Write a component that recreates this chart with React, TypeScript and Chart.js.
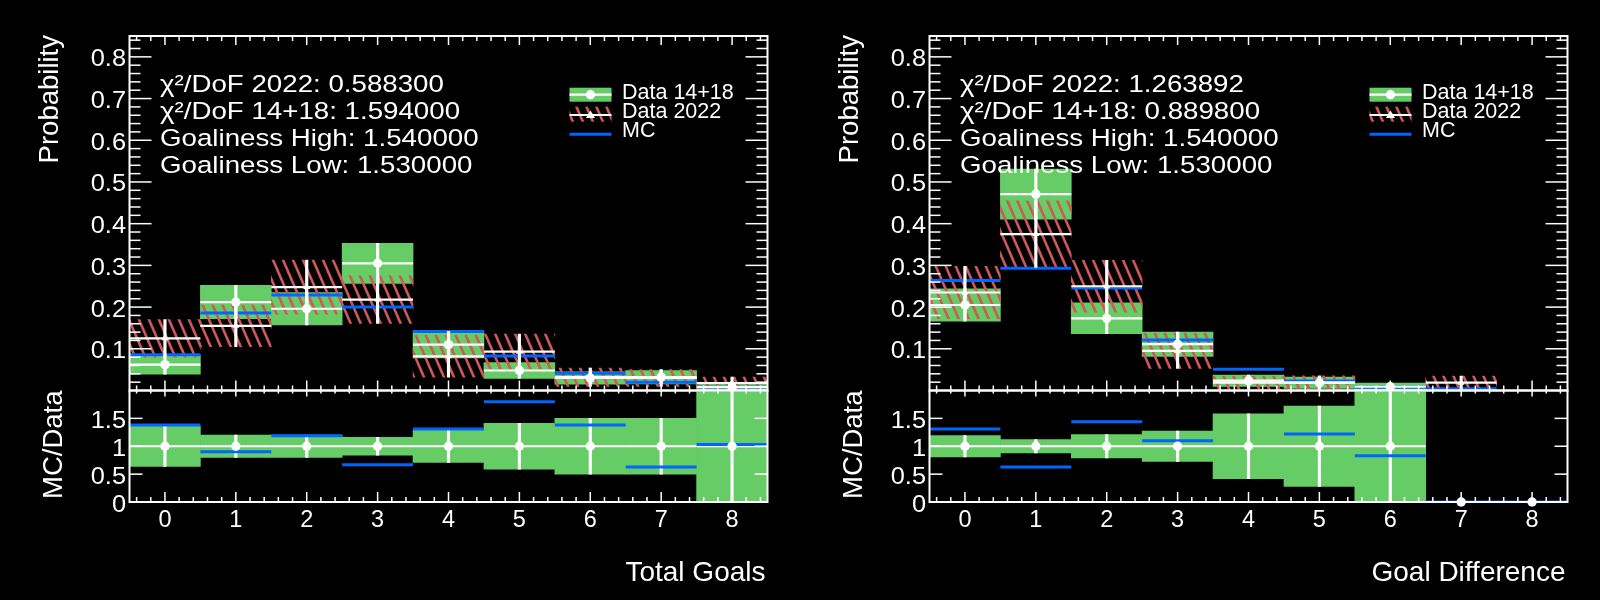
import { useEffect, useRef } from "react";
import { Chart, registerables } from "chart.js";

Chart.register(...registerables);

const goalBins = ["0", "1", "2", "3", "4", "5", "6", "7", "8"];
const probTicks = [0.1, 0.2, 0.3, 0.4, 0.5, 0.6, 0.7, 0.8];
const probTickLabels = ["0.1", "0.2", "0.3", "0.4", "0.5", "0.6", "0.7", "0.8"];
const ratioTicks = [0, 0.5, 1, 1.5];
const ratioTickLabels = ["0", "0.5", "1", "1.5"];
const legendLabels = ["Data 14+18", "Data 2022", "MC"];

// Total Goals
const totalData1418 = [0.062, 0.212, 0.196, 0.305, 0.11, 0.048, 0.03, 0.032, 0.008];
const totalErr1418 = [0.023, 0.04, 0.039, 0.048, 0.032, 0.019, 0.015, 0.016, 0.01];
const totalData2022 = [0.125, 0.155, 0.248, 0.218, 0.082, 0.093, 0.032, 0.03, 0.018];
const totalErr2022 = [0.045, 0.05, 0.065, 0.057, 0.05, 0.042, 0.022, 0.02, 0.014];
const totalMC = [0.086, 0.186, 0.229, 0.2, 0.1415, 0.083, 0.0415, 0.02, 0.008];
const totalRatioPoint = [1, 1, 1, 1, 1, 1, 1, 1, 1];
const totalRatioErr = [0.36, 0.2, 0.2, 0.16, 0.29, 0.41, 0.5, 0.5, 1.2];
const totalRatioMC = [1.38, 0.9, 1.19, 0.67, 1.31, 1.8, 1.38, 0.63, 1.03];
const totalInfo = [
  "χ²/DoF 2022: 0.588300",
  "χ²/DoF 14+18: 1.594000",
  "Goaliness High: 1.540000",
  "Goaliness Low: 1.530000",
];

// Goal Difference
const diffData1418 = [0.205, 0.471, 0.173, 0.111, 0.0235, 0.0187, 0.009, null, null];
const diffErr1418 = [0.039, 0.06, 0.037, 0.029, 0.0135, 0.0135, 0.009, null, null];
const diffData2022 = [0.235, 0.375, 0.25, 0.095, 0.019, 0.019, null, 0.0187, null];
const diffErr2022 = [0.063, 0.08, 0.062, 0.042, 0.015, 0.016, null, 0.016, null];
const diffMC = [0.264, 0.293, 0.246, 0.121, 0.0508, 0.0228, 0.0077, 0.004, null];
const diffRatioPoint = [1, 1, 1, 1, 1, 1, 1, 0, 0];
const diffRatioErr = [0.19, 0.12, 0.21, 0.27, 0.58, 0.72, 1.2, null, null];
const diffRatioMC = [1.31, 0.63, 1.44, 1.1, 2.16, 1.22, 0.83, 0, 0];
const diffInfo = [
  "χ²/DoF 2022: 1.263892",
  "χ²/DoF 14+18: 0.889800",
  "Goaliness High: 1.540000",
  "Goaliness Low: 1.530000",
];

const GREEN = "#66cc66";
const HATCH = "#d05858";
const BLUE = "#0066ff";
const WHITE = "#ffffff";
const FONT = '"Liberation Sans", Arial, sans-serif';

type Vals = (number | null)[];

const band = (vals: Vals, errs: Vals) =>
  vals.map((v, i) => (v === null || errs[i] === null ? null : [v - (errs[i] as number), v + (errs[i] as number)]));

const halfBin = (c: any) => {
  const s = c.chart.scales.x;
  return Math.abs(s.getPixelForValue(1) - s.getPixelForValue(0)) / 2;
};

function makeHatch() {
  const c = document.createElement("canvas");
  c.width = 10;
  c.height = 23;
  const g = c.getContext("2d")!;
  g.strokeStyle = HATCH;
  g.lineWidth = 2.6;
  for (const dx of [-10, 0, 10]) {
    g.beginPath();
    g.moveTo(dx - 10, -23);
    g.lineTo(dx + 20, 46);
    g.stroke();
  }
  return g.createPattern(c, "repeat")!;
}

function text(ctx: CanvasRenderingContext2D, s: string, x: number, y: number, size: number, align: CanvasTextAlign, sx = 1, rot = 0) {
  ctx.save();
  ctx.translate(x, y);
  ctx.scale(sx, 1);
  if (rot) ctx.rotate(rot);
  ctx.font = `${size}px ${FONT}`;
  ctx.textAlign = align;
  ctx.textBaseline = "alphabetic";
  ctx.fillStyle = WHITE;
  ctx.fillText(s, 0, 0);
  ctx.restore();
}

function seg(ctx: CanvasRenderingContext2D, x1: number, y1: number, x2: number, y2: number) {
  ctx.beginPath();
  ctx.moveTo(x1, y1);
  ctx.lineTo(x2, y2);
  ctx.stroke();
}

// ROOT-like x ticks: majors on integers, minors every 0.2
function xTicks(ctx: CanvasRenderingContext2D, chart: any, bottomLen: number[], topLen: number[]) {
  const a = chart.chartArea;
  const x = chart.scales.x;
  for (let k = -2; k <= 42; k++) {
    const px = x.getPixelForValue(k / 5);
    const major = k % 5 === 0;
    seg(ctx, px, a.bottom, px, a.bottom - (major ? bottomLen[0] : bottomLen[1]));
    seg(ctx, px, a.top, px, a.top + (major ? topLen[0] : topLen[1]));
  }
}

function topDecor(info: string[], hatch: CanvasPattern) {
  return {
    id: "topDecor",
    afterDraw(chart: any) {
      const { ctx, chartArea: a } = chart;
      const y = chart.scales.y;
      ctx.save();
      ctx.strokeStyle = WHITE;
      ctx.lineWidth = 1.5;
      for (let k = 1; k <= 42; k++) {
        const py = y.getPixelForValue(k * 0.02);
        const len = k % 5 === 0 ? 22 : 11;
        seg(ctx, a.left, py, a.left + len, py);
        seg(ctx, a.right, py, a.right - len, py);
      }
      xTicks(ctx, chart, [10, 5], [9, 5]);
      ctx.lineWidth = 2;
      ctx.strokeRect(a.left, a.top, a.right - a.left, a.bottom - a.top);

      probTicks.forEach((v, i) => {
        text(ctx, probTickLabels[i], a.left - 3.5, y.getPixelForValue(v) + 9.5, 23.5, "right", 1.08);
      });
      text(ctx, "Probability", 57.5, a.top - 1, 27.5, "right", 1, -Math.PI / 2);

      info.forEach((s, i) => {
        text(ctx, s, a.left + 30.5, 91.5 + i * 27.2, 24.5, "left", 1.13);
      });

      // legend
      const lx = a.left + 440;
      const lw = 42;
      ctx.fillStyle = GREEN;
      ctx.fillRect(lx, 87.7, lw, 14);
      ctx.fillStyle = hatch;
      ctx.fillRect(lx, 106.7, lw, 15);
      ctx.strokeStyle = WHITE;
      ctx.lineWidth = 2.2;
      seg(ctx, lx, 94.7, lx + lw, 94.7);
      seg(ctx, lx, 115, lx + lw, 115);
      ctx.fillStyle = WHITE;
      ctx.beginPath();
      ctx.arc(lx + lw / 2, 94.7, 4.7, 0, Math.PI * 2);
      ctx.fill();
      ctx.beginPath();
      ctx.moveTo(lx + lw / 2, 110.5);
      ctx.lineTo(lx + lw / 2 + 4.5, 118);
      ctx.lineTo(lx + lw / 2 - 4.5, 118);
      ctx.closePath();
      ctx.fill();
      ctx.strokeStyle = BLUE;
      ctx.lineWidth = 3;
      seg(ctx, lx, 134.3, lx + lw, 134.3);
      legendLabels.forEach((s, i) => {
        text(ctx, s, lx + 52.5, 99 + i * 19.2, 21.5, "left");
      });
      ctx.restore();
    },
  };
}

function ratioDecor(xTitle: string) {
  return {
    id: "ratioDecor",
    afterDraw(chart: any) {
      const { ctx, chartArea: a } = chart;
      const y = chart.scales.y;
      const x = chart.scales.x;
      ctx.save();
      ctx.strokeStyle = WHITE;
      ctx.lineWidth = 1.5;
      ratioTicks.forEach((v) => {
        const py = y.getPixelForValue(v);
        seg(ctx, a.left, py, a.left + 13, py);
        seg(ctx, a.right, py, a.right - 13, py);
      });
      xTicks(ctx, chart, [10, 5], [6, 3]);
      ctx.lineWidth = 2;
      ctx.strokeRect(a.left, a.top, a.right - a.left, a.bottom - a.top);

      ratioTicks.forEach((v, i) => {
        text(ctx, ratioTickLabels[i], a.left - 3.5, y.getPixelForValue(v) + 9.5, 23.5, "right", 1.08);
      });
      goalBins.forEach((s, i) => {
        text(ctx, s, x.getPixelForValue(i), 526.7, 23.5, "center");
      });
      text(ctx, "MC/Data", 62, a.top, 27.5, "right", 1, -Math.PI / 2);
      text(ctx, xTitle, a.right - 2, 580.7, 28, "right");
      ctx.restore();
    },
  };
}

const baseOptions = (padding: any, yMax: number) => ({
  responsive: false,
  animation: false as const,
  events: [] as any[],
  layout: { padding },
  plugins: { legend: { display: false }, tooltip: { enabled: false } },
  scales: {
    x: { type: "category" as const, offset: true, display: false },
    y: { type: "linear" as const, min: 0, max: yMax, display: false },
  },
});

const barBox = (data: any, color: any, order: number) => ({
  type: "bar" as const,
  data,
  backgroundColor: color,
  borderWidth: 0,
  grouped: false,
  barPercentage: 1,
  categoryPercentage: 1,
  order,
  clip: 0,
});

const errBar = (data: any, order: number) => ({
  type: "bar" as const,
  data,
  backgroundColor: WHITE,
  borderWidth: 0,
  grouped: false,
  barThickness: 2.5,
  order,
  clip: 0,
});

const hLine = (data: Vals, color: string, width: number, order: number) => ({
  type: "line" as const,
  data,
  showLine: false,
  pointStyle: "line" as const,
  pointRadius: halfBin,
  pointBorderColor: color,
  pointBorderWidth: width,
  pointBackgroundColor: color,
  order,
  clip: 0,
});

const marker = (data: Vals, style: any, radius: number, order: number, clip: any = 0) => ({
  type: "line" as const,
  data,
  showLine: false,
  pointStyle: style,
  pointRadius: radius,
  pointBorderWidth: 0,
  pointBackgroundColor: WHITE,
  order,
  clip,
});

type PanelProps = {
  left: number;
  d1418: Vals;
  e1418: Vals;
  d2022: Vals;
  e2022: Vals;
  mc: Vals;
  rPoint: Vals;
  rErr: Vals;
  rMC: Vals;
  info: string[];
  xTitle: string;
};

function Panel(p: PanelProps) {
  const topRef = useRef<HTMLCanvasElement>(null);
  const ratioRef = useRef<HTMLCanvasElement>(null);

  useEffect(() => {
    const hatch = makeHatch();
    const box1418 = band(p.d1418, p.e1418);
    const box2022 = band(p.d2022, p.e2022);
    const rBox = band(p.rPoint, p.rErr);

    const top = new Chart(topRef.current!, {
      type: "bar",
      data: {
        labels: goalBins,
        datasets: [
          barBox(box1418, GREEN, 90),
          barBox(box2022, hatch, 80),
          hLine(p.mc, BLUE, 3, 70),
          errBar(box1418, 60),
          errBar(box2022, 60),
          hLine(p.d1418, WHITE, 2.2, 50),
          hLine(p.d2022, WHITE, 2.2, 50),
          marker(p.d1418, "circle", 4.7, 40),
          marker(p.d2022, "triangle", 4, 30),
        ] as any,
      },
      options: baseOptions({ left: 129.5, top: 36, right: 32.5, bottom: 209.5 }, 0.85) as any,
      plugins: [topDecor(p.info, hatch)],
    });

    const ratio = new Chart(ratioRef.current!, {
      type: "bar",
      data: {
        labels: goalBins,
        datasets: [
          barBox(rBox, GREEN, 90),
          errBar(rBox, 60),
          hLine(p.rPoint, WHITE, 2.2, 55),
          hLine(p.rMC, BLUE, 3, 50),
          marker(p.rPoint, "circle", 4.7, 40, false),
        ] as any,
      },
      options: baseOptions({ left: 129.5, top: 390.5, right: 32.5, bottom: 98 }, 2) as any,
      plugins: [ratioDecor(p.xTitle)],
    });

    return () => {
      top.destroy();
      ratio.destroy();
    };
  }, []);

  const canvasStyle = { position: "absolute" as const, left: 0, top: 0 };
  return (
    <div style={{ position: "absolute", left: p.left, top: 0, width: 800, height: 600 }}>
      <canvas ref={topRef} width={800} height={600} style={canvasStyle} />
      <canvas ref={ratioRef} width={800} height={600} style={canvasStyle} />
    </div>
  );
}

export default function App() {
  return (
    <div style={{ position: "fixed", left: 0, top: 0, width: 1600, height: 600, background: "#000", overflow: "hidden" }}>
      <Panel
        left={0}
        d1418={totalData1418}
        e1418={totalErr1418}
        d2022={totalData2022}
        e2022={totalErr2022}
        mc={totalMC}
        rPoint={totalRatioPoint}
        rErr={totalRatioErr}
        rMC={totalRatioMC}
        info={totalInfo}
        xTitle="Total Goals"
      />
      <Panel
        left={800}
        d1418={diffData1418}
        e1418={diffErr1418}
        d2022={diffData2022}
        e2022={diffErr2022}
        mc={diffMC}
        rPoint={diffRatioPoint}
        rErr={diffRatioErr}
        rMC={diffRatioMC}
        info={diffInfo}
        xTitle="Goal Difference"
      />
    </div>
  );
}
